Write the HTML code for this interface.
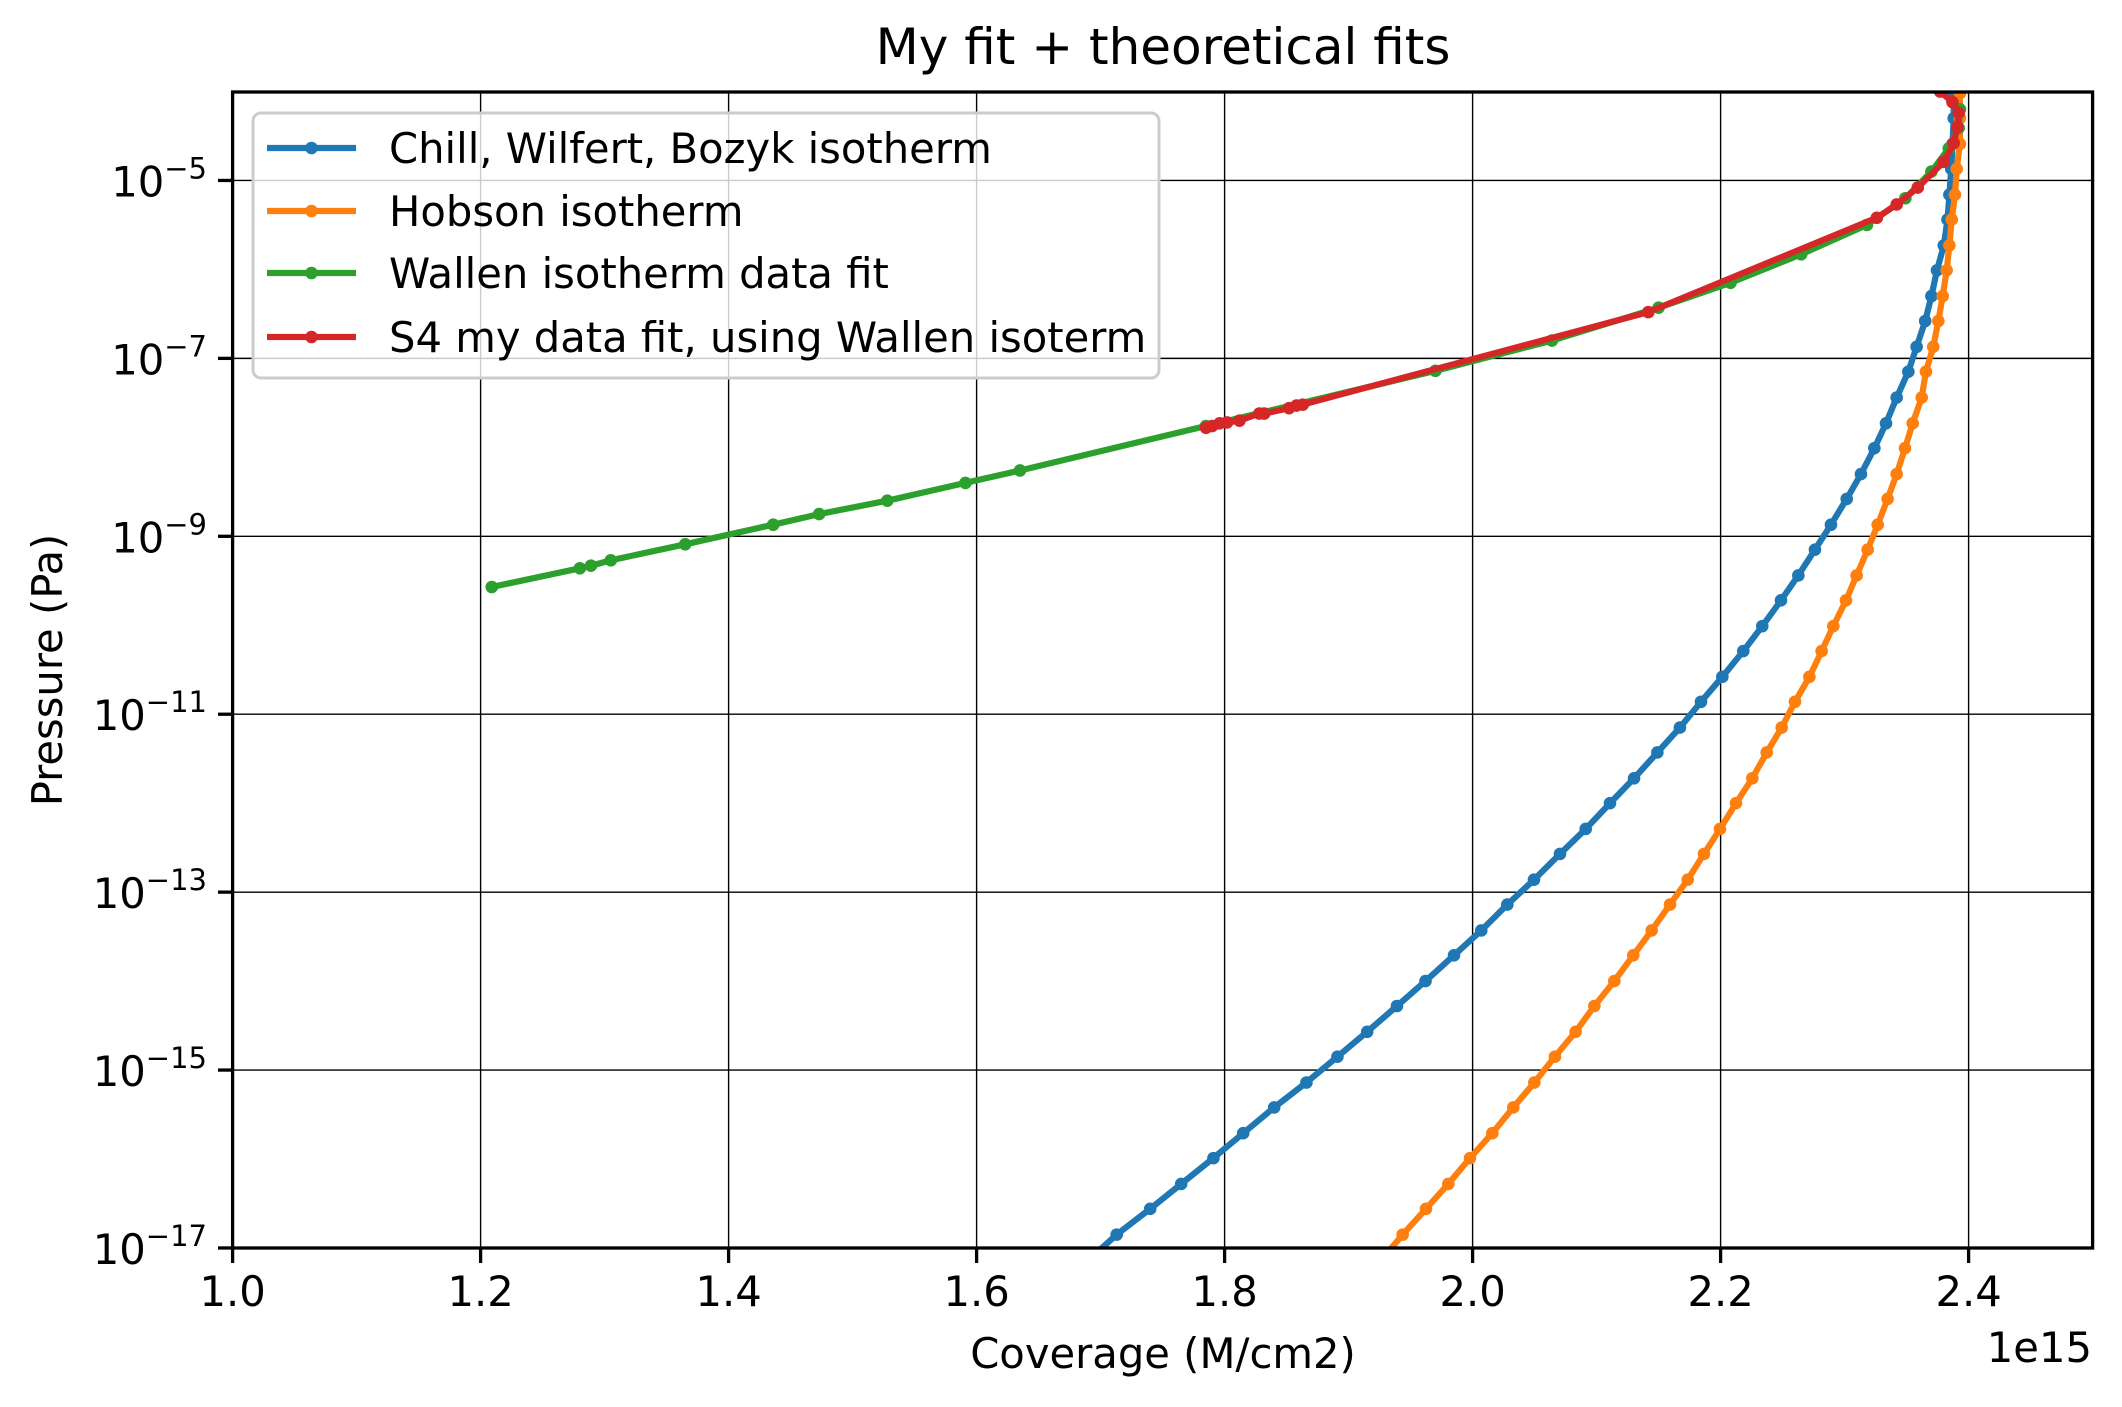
<!DOCTYPE html>
<html><head><meta charset="utf-8"><title>My fit + theoretical fits</title>
<style>
html,body{margin:0;padding:0;background:#fff;}
svg{display:block;font-family:"DejaVu Sans","Liberation Sans",sans-serif;}
</style></head>
<body>
<svg id="chart" width="2122" height="1407" viewBox="0 0 2122 1407" xmlns="http://www.w3.org/2000/svg">
<rect width="2122" height="1407" fill="#fff"/>
<text x="1163" y="64" font-size="50" text-anchor="middle">My fit + theoretical fits</text>
<defs><clipPath id="clip"><rect x="232.6" y="92" width="1860" height="1156"/></clipPath></defs>
<g id="grid"></g>
<g id="series" clip-path="url(#clip)"></g>
<rect x="232.6" y="92" width="1860" height="1156" fill="none" stroke="#000" stroke-width="3.3"/>
<g id="ticks"></g>
<text x="1163" y="1368" font-size="41.7" text-anchor="middle">Coverage (M/cm2)</text>
<text x="2092" y="1362" font-size="41.7" text-anchor="end">1e15</text>
<text x="62" y="670" font-size="41.7" text-anchor="middle" transform="rotate(-90 62 670)">Pressure (Pa)</text>
<g id="legend"></g>
</svg>
<script>
const xTicks = [1.0, 1.2, 1.4, 1.6, 1.8, 2.0, 2.2, 2.4];
const xTickLabels = ["1.0","1.2","1.4","1.6","1.8","2.0","2.2","2.4"];
const yTickExps = [-17, -15, -13, -11, -9, -7, -5];
const seriesNames = ["Chill, Wilfert, Bozyk isotherm","Hobson isotherm","Wallen isotherm data fit","S4 my data fit, using Wallen isoterm"];
const seriesColors = ["#1f77b4","#ff7f0e","#2ca02c","#d62728"];
const chillX = [1.690,1.713,1.740,1.765,1.791,1.815,1.840,1.866,1.891,1.915,1.939,1.962,1.985,2.007,2.028,2.0495,2.0705,2.0912,2.1108,2.1302,2.149,2.1672,2.1842,2.2014,2.2183,2.2336,2.2487,2.2627,2.2761,2.289,2.3017,2.3132,2.324,2.3334,2.342,2.3514,2.3581,2.365,2.370,2.3745,2.380,2.383,2.3845,2.386,2.387,2.388,2.388];
const chillLogP = [-17.14,-16.85,-16.56,-16.28,-15.99,-15.71,-15.42,-15.14,-14.85,-14.57,-14.28,-14.00,-13.71,-13.43,-13.14,-12.86,-12.57,-12.29,-12.00,-11.72,-11.43,-11.15,-10.86,-10.58,-10.29,-10.01,-9.72,-9.44,-9.15,-8.87,-8.58,-8.30,-8.01,-7.73,-7.44,-7.15,-6.87,-6.58,-6.30,-6.01,-5.73,-5.44,-5.16,-4.87,-4.59,-4.30,-4.02];
const hobsonX = [1.926,1.9436,1.9624,1.9804,1.9979,2.0159,2.0328,2.0498,2.0664,2.0831,2.0982,2.1143,2.1296,2.1444,2.1592,2.1735,2.1866,2.1995,2.2124,2.2256,2.2372,2.2493,2.2600,2.2716,2.2815,2.2909,2.3011,2.3097,2.3186,2.3267,2.3347,2.3420,2.3487,2.3549,2.3622,2.3656,2.3715,2.3756,2.3791,2.3823,2.3845,2.3864,2.389,2.3904,2.393,2.393,2.393,2.393];
const hobsonLogP = [-17.14,-16.85,-16.56,-16.28,-15.99,-15.71,-15.42,-15.14,-14.85,-14.57,-14.28,-14.00,-13.71,-13.43,-13.14,-12.86,-12.57,-12.29,-12.00,-11.72,-11.43,-11.15,-10.86,-10.58,-10.29,-10.01,-9.72,-9.44,-9.15,-8.87,-8.58,-8.30,-8.01,-7.73,-7.44,-7.15,-6.87,-6.58,-6.30,-6.01,-5.73,-5.44,-5.16,-4.87,-4.59,-4.30,-4.02,-3.73];
const wallenX = [1.209,1.280,1.289,1.305,1.365,1.436,1.473,1.528,1.591,1.635,1.785,1.970,2.064,2.150,2.208,2.265,2.318,2.349,2.370,2.384,2.392,2.393];
const wallenLogP = [-9.57,-9.36,-9.33,-9.27,-9.09,-8.87,-8.75,-8.60,-8.40,-8.26,-7.76,-7.14,-6.80,-6.43,-6.15,-5.83,-5.50,-5.20,-4.90,-4.64,-4.41,-4.20];
const s4X = [1.785,1.790,1.796,1.802,1.812,1.828,1.832,1.852,1.858,1.863,2.1417,2.326,2.342,2.359,2.380,2.388,2.391,2.392,2.387,2.377,2.370];
const s4LogP = [-7.78,-7.76,-7.73,-7.72,-7.70,-7.62,-7.62,-7.56,-7.53,-7.52,-6.48,-5.42,-5.27,-5.08,-4.79,-4.58,-4.40,-4.24,-4.12,-4.00,-3.90];

const NS = "http://www.w3.org/2000/svg";
const X0 = 232.6, XPU = 1240, Y4 = 91.5, YPD = 88.96;
function xs(v){ return X0 + (v - 1.0) * XPU; }
function ys(lp){ return Y4 + (-4 - lp) * YPD; }
function mk(tag, attrs, parent){ const e = document.createElementNS(NS, tag); for (const k in attrs) e.setAttribute(k, attrs[k]); parent.appendChild(e); return e; }

const grid = document.getElementById('grid');
const ticks = document.getElementById('ticks');
xTicks.forEach((t, i) => {
  const x = xs(t);
  const g = mk('line', {x1:x, x2:x, y1:92, y2:1248, stroke:'#000', 'stroke-width':1.4}, grid);
  
  
  const tk = mk('line', {x1:x, x2:x, y1:1248, y2:1263, stroke:'#000', 'stroke-width':3.3}, ticks);
  
  
  const lb = mk('text', {x:x, y:1306, 'font-size':41.7, 'text-anchor':'middle'}, ticks);
  lb.textContent = xTickLabels[i];
  
  
});
yTickExps.forEach(e => {
  const y = ys(e);
  const g = mk('line', {x1:232.6, x2:2092.6, y1:y, y2:y, stroke:'#000', 'stroke-width':1.4}, grid);
  
  
  const tk = mk('line', {x1:218, x2:232.6, y1:y, y2:y, stroke:'#000', 'stroke-width':3.3}, ticks);
  
  
  const lb = mk('text', {x:207, y:y + 16, 'font-size':41.7, 'text-anchor':'end'}, ticks);
  const t1 = mk('tspan', {}, lb); t1.textContent = '10';
  const t2 = mk('tspan', {'font-size':29, dy:-18}, lb); t2.textContent = '\u2212' + Math.abs(e);
  
  
});

const seriesG = document.getElementById('series');
const allX = [chillX, hobsonX, wallenX, s4X];
const allY = [chillLogP, hobsonLogP, wallenLogP, s4LogP];
const sNames = ['chill-series','hobson-series','wallen-series','s4-series'];
allX.forEach((xsArr, s) => {
  const g = mk('g', {}, seriesG);
  
  
  const pts = xsArr.map((v, i) => xs(v).toFixed(1) + ',' + ys(allY[s][i]).toFixed(1)).join(' ');
  const pl = mk('polyline', {points:pts, fill:'none', stroke:seriesColors[s], 'stroke-width':6.2, 'stroke-linejoin':'round', 'stroke-linecap':'square'}, g);
  
  
  xsArr.forEach((v, i) => {
    const c = mk('circle', {cx:xs(v), cy:ys(allY[s][i]), r:6.3, fill:seriesColors[s]}, g);
    
    
  });
});

const leg = document.getElementById('legend');
const box = mk('rect', {x:253, y:113, width:906, height:265, rx:8, fill:'#fff', 'fill-opacity':0.8, stroke:'#cccccc', 'stroke-width':3}, leg);


const rows = [148, 211, 273, 337];
seriesNames.forEach((n, i) => {
  const g = mk('g', {}, leg);
  
  
  mk('line', {x1:267, x2:356, y1:rows[i], y2:rows[i], stroke:seriesColors[i], 'stroke-width':6.2}, g);
  mk('circle', {cx:311.5, cy:rows[i], r:6.3, fill:seriesColors[i]}, g);
  const t = mk('text', {x:389, y:rows[i] + 15, 'font-size':41.7}, g);
  t.textContent = n;
});
</script>
</body></html>
